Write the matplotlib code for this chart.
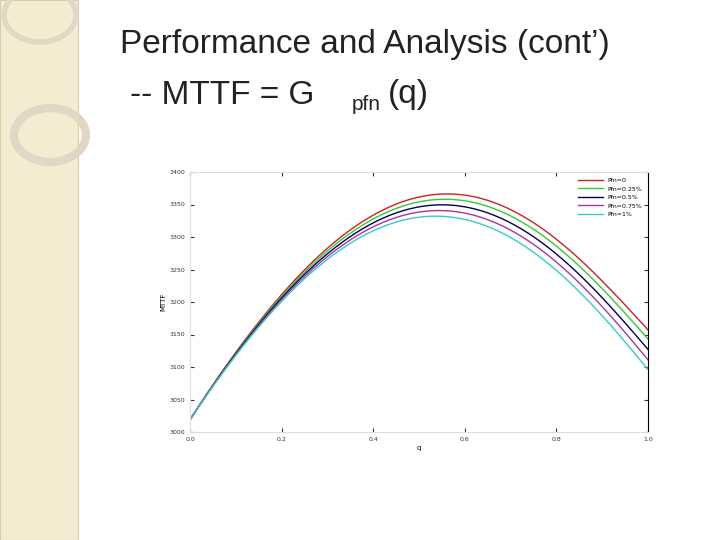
import matplotlib
matplotlib.use("Agg")
import matplotlib.pyplot as plt
import numpy as np
from matplotlib.patches import Rectangle, Circle

q = [0, 0.1, 0.2, 0.3, 0.4, 0.5, 0.6, 0.7, 0.8, 0.9, 1.0]
labels = ["Pfn=0", "Pfn=0.25%", "Pfn=0.5%", "Pfn=0.75%", "Pfn=1%"]
series = [
    [3019, 3122, 3212, 3283, 3333, 3361, 3365, 3343, 3295, 3233, 3157],
    [3019, 3121, 3209, 3279, 3327, 3354, 3356, 3333, 3285, 3221, 3143],
    [3019, 3120, 3206, 3275, 3321, 3346, 3347, 3322, 3273, 3207, 3127],
    [3019, 3119, 3203, 3271, 3315, 3338, 3337, 3311, 3261, 3193, 3111],
    [3019, 3118, 3200, 3267, 3309, 3330, 3327, 3300, 3248, 3179, 3096],
]
colors = ["#cc2222", "#33cc33", "#000055", "#aa33aa", "#33cccc"]
xticks = [0, 0.2, 0.4, 0.6, 0.8, 1.0]
yticks = [3000, 3050, 3100, 3150, 3200, 3250, 3300, 3350, 3400]

fig = plt.figure(figsize=(7.2, 5.4), dpi=100)
fig.patch.set_facecolor("white")
fig.add_artist(Rectangle((0, 0), 78/720, 1, transform=fig.transFigure, facecolor="#f4ecd0", edgecolor="#d8ccaa", lw=0.8))
fig.add_artist(Circle((50/720, 1-135/540), 0.05, transform=fig.transFigure, fill=False, edgecolor="#e0d8c4", lw=6))
fig.add_artist(Circle((40/720, 1-15/540), 0.05, transform=fig.transFigure, fill=False, edgecolor="#e0d8c4", lw=4))

fig.text(120/720, 1-45/540, "Performance and Analysis (cont’)", fontsize=24, va="center",
         color="#222222", family="Liberation Sans")
fig.text(130/720, 1-95/540, "-- MTTF = G", fontsize=24, va="center", color="#222222", family="Liberation Sans")
fig.text(352/720, 1-105/540, "pfn", fontsize=15, va="center", color="#222222", family="Liberation Sans")
fig.text(388/720, 1-95/540, "(q)", fontsize=24, va="center", color="#222222", family="Liberation Sans")

ax = fig.add_axes([190/720, 1-432/540, 458/720, 260/540])
qq = np.linspace(0, 1, 200)
for ys, c, l in zip(series, colors, labels):
    coef = np.polyfit(q, ys, 5)
    ax.plot(qq, np.polyval(coef, qq), color=c, lw=1, label=l)
ax.set_xlim(0, 1)
ax.set_ylim(3000, 3400)
ax.set_xticks(xticks)
ax.set_yticks(yticks)
ax.tick_params(labelsize=4.5, direction="in", top=True, right=True, length=3, colors="#333333")
ax.set_xlabel("q", fontsize=5, labelpad=2)
ax.set_ylabel("MTTF", fontsize=5, labelpad=2)
for s in ["top", "left", "bottom"]:
    ax.spines[s].set_color("#dddddd")
ax.spines["right"].set_color("black")
ax.legend(loc="upper right", fontsize=4.5, frameon=False, handlelength=4)
fig.savefig("out.png", dpi=100)
